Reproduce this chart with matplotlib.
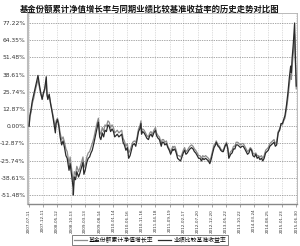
import matplotlib
matplotlib.use("Agg")
import matplotlib.pyplot as plt
import pandas as pd

plt.rcParams['font.family'] = ['Noto Sans CJK SC', 'DejaVu Sans']

title = "基金份额累计净值增长率与同期业绩比较基准收益率的历史走势对比图"
series_names = ["基金份额累计净值增长率", "业绩比较基准收益率"]

dates = [
    "2007-07-11", "2007-07-20", "2007-07-31", "2007-08-15", "2007-08-31", "2007-09-14",
    "2007-09-28", "2007-10-16", "2007-10-31", "2007-11-15", "2007-11-30", "2007-12-14",
    "2007-12-28", "2008-01-14", "2008-01-22", "2008-01-31", "2008-02-15", "2008-02-29",
    "2008-03-14", "2008-03-31", "2008-04-22", "2008-04-30", "2008-05-15", "2008-05-30",
    "2008-06-13", "2008-06-30", "2008-07-15", "2008-07-31", "2008-08-15", "2008-08-29",
    "2008-09-18", "2008-09-30", "2008-10-15", "2008-10-31", "2008-11-04", "2008-11-14",
    "2008-11-28", "2008-12-12", "2008-12-31", "2009-01-15", "2009-01-23", "2009-02-17",
    "2009-02-27", "2009-03-13", "2009-03-31", "2009-04-15", "2009-04-30", "2009-05-15",
    "2009-05-29", "2009-06-15", "2009-06-30", "2009-07-15", "2009-07-31", "2009-08-04",
    "2009-08-18", "2009-08-31", "2009-09-15", "2009-09-30", "2009-10-15", "2009-10-30",
    "2009-11-16", "2009-11-30", "2009-12-15", "2009-12-31", "2010-01-15", "2010-01-29",
    "2010-02-12", "2010-02-26", "2010-03-15", "2010-03-31", "2010-04-15", "2010-04-30",
    "2010-05-14", "2010-05-31", "2010-06-15", "2010-06-30", "2010-07-15", "2010-07-30",
    "2010-08-13", "2010-08-31", "2010-09-15", "2010-09-30", "2010-10-15", "2010-10-29",
    "2010-11-11", "2010-11-17", "2010-11-30", "2010-12-15", "2010-12-31", "2011-01-14",
    "2011-01-31", "2011-02-15", "2011-02-28", "2011-03-15", "2011-03-31", "2011-04-18",
    "2011-04-29", "2011-05-16", "2011-05-31", "2011-06-20", "2011-06-30", "2011-07-15",
    "2011-07-29", "2011-08-15", "2011-08-31", "2011-09-15", "2011-09-30", "2011-10-24",
    "2011-10-31", "2011-11-15", "2011-11-30", "2011-12-15", "2011-12-30", "2012-01-16",
    "2012-01-31", "2012-02-15", "2012-02-29", "2012-03-15", "2012-03-30", "2012-04-16",
    "2012-04-27", "2012-05-15", "2012-05-31", "2012-06-15", "2012-06-29", "2012-07-16",
    "2012-07-31", "2012-08-15", "2012-08-31", "2012-09-14", "2012-09-28", "2012-10-15",
    "2012-10-31", "2012-11-15", "2012-11-30", "2012-12-14", "2012-12-31", "2013-01-15",
    "2013-01-31", "2013-02-08", "2013-02-28", "2013-03-15", "2013-03-29", "2013-04-15",
    "2013-04-26", "2013-05-15", "2013-05-31", "2013-06-14", "2013-06-25", "2013-07-15",
    "2013-07-31", "2013-08-15", "2013-08-30", "2013-09-13", "2013-09-30", "2013-10-15",
    "2013-10-31", "2013-11-15", "2013-11-29", "2013-12-16", "2013-12-31", "2014-01-15",
    "2014-01-30", "2014-02-14", "2014-02-28", "2014-03-14", "2014-03-31", "2014-04-15",
    "2014-04-30", "2014-05-15", "2014-05-30", "2014-06-16", "2014-06-30", "2014-07-15",
    "2014-07-31", "2014-08-15", "2014-08-29", "2014-09-15", "2014-09-30", "2014-10-15",
    "2014-10-31", "2014-11-14", "2014-11-28", "2014-12-15", "2014-12-31", "2015-01-15",
    "2015-01-30", "2015-02-13", "2015-02-27", "2015-03-16", "2015-03-31", "2015-04-15",
    "2015-04-30", "2015-05-08", "2015-05-15", "2015-05-29", "2015-06-12", "2015-06-19",
    "2015-06-30",
]

fund = [
    0, 8, 12, 19, 24, 28,
    33, 38, 31, 25, 20, 25,
    28, 37, 24, 20, 24, 17,
    12, 5, -5, 2, 5, 0,
    -8, -14, -11, -16, -22, -24,
    -33, -28, -36, -45, -51.48, -38,
    -40, -34, -38, -35, -33, -27,
    -36, -33, -27, -24, -23, -20,
    -18, -13, -8, -3, 2, 3,
    -8, -10, -5, -8, -3, -4,
    1, 0, -4, -2, -4, -8,
    -7, -6, -8, -7, -6, -12,
    -14, -18, -16, -24, -22, -18,
    -14, -13, -15, -10, -4, -2,
    2, -6, -4, -5, -7, -9,
    -10, -7, -6, -8, -5, -3,
    -7, -9, -10, -15, -12, -12,
    -14, -13, -16, -18, -21, -17,
    -18, -17, -20, -24, -25, -26,
    -23, -20, -18, -21, -20, -18,
    -17, -16, -17, -19, -20, -22,
    -24, -24, -26, -24, -25, -24,
    -25, -26, -28, -25, -20, -16,
    -14, -12, -15, -16, -18, -19,
    -19, -15, -13, -17, -24, -21,
    -20, -17, -17, -14, -14, -15,
    -16, -15, -15, -17, -19, -21,
    -20, -17, -18, -22, -23, -21,
    -24, -23, -25, -24, -26, -24,
    -20, -19, -18, -15, -14, -13,
    -12, -15, -14, -5, -3, 2,
    2, 5, 8, 16, 25, 36,
    45, 40, 50, 62, 77.22, 55,
    30,
]

benchmark = [
    0, 7, 10, 17, 21, 26,
    30, 35, 29, 24, 21, 24,
    27, 34, 23, 21, 23, 18,
    13, 7, -2, 4, 6, 2,
    -5, -10, -8, -12, -17, -19,
    -28, -23, -31, -40, -45, -34,
    -36, -30, -34, -31, -29, -23,
    -31, -29, -23, -20, -19, -16,
    -13, -9, -4, 1, 5, 6,
    -4, -6, -1, -4, 1, 0,
    4, 3, -1, 1, -1, -5,
    -4, -3, -5, -4, -3, -9,
    -11, -15, -13, -20, -18, -15,
    -12, -11, -12, -8, -2, 0,
    4, -4, -2, -3, -5, -7,
    -8, -5, -4, -6, -3, -1,
    -5, -7, -8, -13, -10, -10,
    -12, -11, -15, -17, -19, -15,
    -16, -15, -18, -22, -22, -23,
    -21, -18, -16, -19, -18, -16,
    -15, -14, -15, -17, -18, -20,
    -22, -22, -24, -22, -23, -22,
    -23, -24, -26, -23, -18, -14,
    -13, -11, -14, -15, -17, -18,
    -18, -14, -12, -16, -22, -19,
    -18, -15, -15, -12, -12, -13,
    -14, -13, -13, -15, -17, -19,
    -18, -16, -17, -20, -21, -20,
    -22, -22, -23, -22, -24, -22,
    -18, -17, -16, -13, -12, -11,
    -10, -13, -12, -4, -2, 1,
    1, 4, 6, 13, 21, 31,
    39, 35, 44, 55, 69, 50,
    28,
]

ytick_vals = [-51.48, -38.61, -25.74, -12.87, 0.00, 12.87, 25.74, 38.61, 51.48, 64.35, 77.22]

xtick_labels = [
    "2007-07-11", "2007-12-11", "2008-05-12", "2008-10-13", "2009-03-13",
    "2009-08-14", "2010-01-14", "2010-06-16", "2010-11-16", "2011-04-18",
    "2011-09-19", "2012-02-17", "2012-07-20", "2012-12-20", "2013-05-22",
    "2013-10-22", "2014-03-24", "2014-08-25", "2015-01-23", "2015-06-30",
]

x = pd.to_datetime(dates)
xt = pd.to_datetime(xtick_labels)

fig = plt.figure(figsize=(3.0, 2.46), dpi=100)
ax = fig.add_axes([28/300, 1-204/246, 269/300, 191/246])

ax.plot(x, benchmark, color="#8c8c8c", lw=0.9, zorder=3)
ax.plot(x, fund, color="#2b2b2b", lw=0.9, zorder=4)

ax.set_ylim(-58.2, 84.7)
ax.set_xlim(x[0] - pd.Timedelta(days=12), x[-1] + pd.Timedelta(days=8))

ax.set_yticks(ytick_vals)
ax.set_yticklabels([f"{v:.2f}%" for v in ytick_vals], fontsize=4.3,
                   family=['DejaVu Sans'], color="#333333")
ax.set_xticks(xt)
ax.set_xticklabels(xtick_labels, rotation=90, fontsize=3.0,
                   family=['DejaVu Sans'], color="#333333")

ax.tick_params(axis='y', length=0, pad=2)
ax.tick_params(axis='x', length=2, width=0.4, pad=1.5, color="#666666")

ax.grid(axis='y', color="#555555", lw=0.5, linestyle=(0, (1, 1.5)))
ax.grid(axis='x', color="#c0c0c0", lw=0.5, linestyle=(0, (1, 1.5)))

for s in ['top', 'right']:
    ax.spines[s].set_color("#b0b0b0")
    ax.spines[s].set_linewidth(0.6)
ax.spines['left'].set_color("#bdbdbd")
ax.spines['left'].set_linewidth(1.5)
ax.spines['bottom'].set_color("#888888")
ax.spines['bottom'].set_linewidth(1.0)

fig.text(0.5, 1-9/246, title, ha='center', va='center', fontsize=6.0,
         fontweight='bold', color="#111111")

leg = fig.legend(series_names, loc='center', bbox_to_anchor=(150/300, 1-240/246),
                 ncol=2, fontsize=4.2, frameon=True, handlelength=2.2,
                 handletextpad=0.4, columnspacing=0.8, borderpad=0.3,
                 fancybox=False)
leg.get_frame().set_edgecolor("#222222")
leg.get_frame().set_linewidth(0.5)

fig.savefig("out.png", dpi=100)
